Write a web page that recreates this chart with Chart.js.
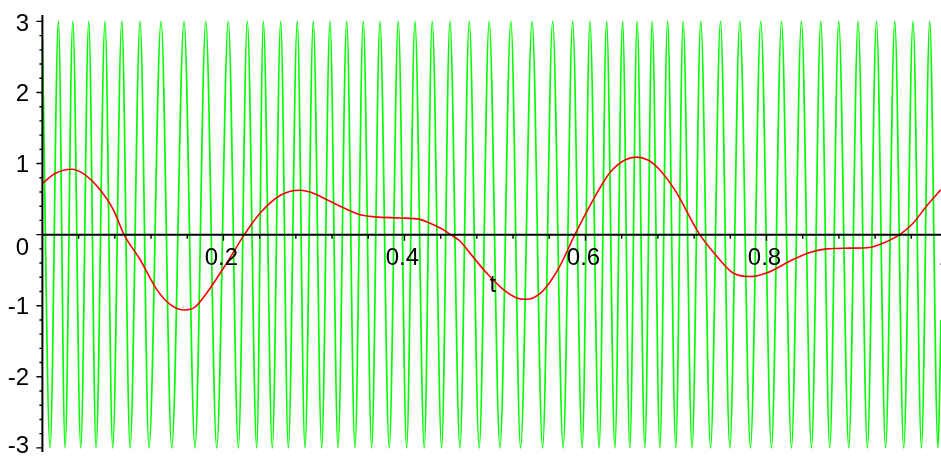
<!DOCTYPE html>
<html>
<head>
<meta charset="utf-8">
<script src="https://cdn.jsdelivr.net/npm/chart.js@4.4.1/dist/chart.umd.min.js"></script>
<style>
  html, body { margin: 0; padding: 0; background: #ffffff; }
  #wrap { width: 941px; height: 460px; }
</style>
</head>
<body>
<div id="wrap"><canvas id="plot" width="941" height="460"></canvas></div>
<script>
// Fast carrier: times of its crests and troughs, and its level
const carrierPeakT = [
  0.0177, 0.0336, 0.0512, 0.0692, 0.0877, 0.1079, 0.1311, 0.1565, 0.1805, 0.2054,
  0.2264, 0.2441, 0.2633, 0.2816, 0.2993, 0.3177, 0.3362, 0.3545, 0.3729, 0.3932,
  0.4116, 0.4307, 0.4502, 0.4716, 0.4936, 0.5176, 0.5411, 0.5637, 0.5858, 0.6049,
  0.6233, 0.6410, 0.6571, 0.6737, 0.6907, 0.7079, 0.7274, 0.7492, 0.7705, 0.7937,
  0.8166, 0.8386, 0.8600, 0.8798, 0.9012, 0.9215, 0.9417, 0.9619, 0.9803
];
const carrierTroughT = [
  0.0085, 0.0251, 0.0424, 0.0593, 0.0777, 0.0969, 0.1178, 0.1429, 0.1686, 0.1926,
  0.2165, 0.2368, 0.2540, 0.2717, 0.2901, 0.3086, 0.3266, 0.3453, 0.3638, 0.3832,
  0.4024, 0.4219, 0.4411, 0.4613, 0.4826, 0.5055, 0.5283, 0.5526, 0.5754, 0.5964,
  0.6151, 0.6325, 0.6490, 0.6656, 0.6822, 0.6998, 0.7178, 0.7382, 0.7595, 0.7823,
  0.8055, 0.8276, 0.8497, 0.8699, 0.8909, 0.9115, 0.9316, 0.9516, 0.9712, 0.9895
];
const carrierLevel = 3;
const carrierEndT = [0, 0.9928];
const carrierEndV = [2.75, -1.2];

// Slow signal
const signalT = [
  0.0000, 0.0140, 0.0325, 0.0472, 0.0637, 0.0784, 0.0902, 0.1079, 0.1263, 0.1410,
  0.1576, 0.1686, 0.1816, 0.2036, 0.2231, 0.2404, 0.2625, 0.2846, 0.2956, 0.3067,
  0.3288, 0.3509, 0.3674, 0.3950, 0.4171, 0.4282, 0.4428, 0.4510, 0.4613, 0.4724,
  0.4908, 0.5091, 0.5239, 0.5353, 0.5497, 0.5607, 0.5718, 0.5883, 0.6085, 0.6269,
  0.6435, 0.6564, 0.6689, 0.6822, 0.7006, 0.7189, 0.7263, 0.7448, 0.7631, 0.7816,
  0.8000, 0.8294, 0.8478, 0.8663, 0.8920, 0.9141, 0.9251, 0.9472, 0.9619, 0.9767,
  0.9925
];
const signalV = [
  0.72, 0.86, 0.92, 0.84, 0.63, 0.35, 0.00, -0.35, -0.77, -0.98,
  -1.06, -1.02, -0.82, -0.40, 0.00, 0.30, 0.55, 0.625, 0.60, 0.54,
  0.40, 0.28, 0.25, 0.235, 0.215, 0.16, 0.07, 0.00, -0.09, -0.26,
  -0.54, -0.77, -0.89, -0.91, -0.83, -0.67, -0.44, 0.00, 0.49, 0.87,
  1.05, 1.09, 1.05, 0.91, 0.59, 0.16, 0.00, -0.30, -0.54, -0.59,
  -0.54, -0.35, -0.25, -0.20, -0.19, -0.18, -0.14, 0.00, 0.16, 0.40,
  0.63
];

// Axis ticks and labels
const xTickValues = [0.2, 0.4, 0.6, 0.8, 1];
const xTickLabels = ['0.2', '0.4', '0.6', '0.8', '1'];
const xMinorStep = 0.04;
const yTickValues = [-3, -2, -1, 0, 1, 2, 3];
const yTickLabels = ['-3', '-2', '-1', '0', '1', '2', '3'];
const yMinorStep = 0.2;
const xAxisTitle = 't';

// Build point lists
const carrierPts = [];
carrierPeakT.forEach(t => carrierPts.push({ x: t, y: carrierLevel }));
carrierTroughT.forEach(t => carrierPts.push({ x: t, y: -carrierLevel }));
carrierEndT.forEach((t, i) => carrierPts.push({ x: t, y: carrierEndV[i] }));
carrierPts.sort((a, b) => a.x - b.x);

const signalPts = signalT.map((t, i) => ({ x: t, y: signalV[i] }));

const LABEL_FONT = '24px "Liberation Sans", Arial, sans-serif';

const axesPlugin = {
  id: 'crossAxes',
  afterDatasetsDraw(chart) {
    const { ctx, chartArea, scales } = chart;
    const xs = scales.x, ys = scales.y;
    const x0 = xs.getPixelForValue(0);
    const y0 = ys.getPixelForValue(0);
    ctx.save();
    ctx.strokeStyle = '#000000';
    ctx.fillStyle = '#000000';

    // axis lines
    ctx.lineWidth = 2;
    ctx.beginPath();
    ctx.moveTo(x0, chartArea.top);
    ctx.lineTo(x0, chartArea.bottom + 2);
    ctx.moveTo(x0, y0);
    ctx.lineTo(chartArea.right + 2, y0);
    ctx.stroke();

    // y ticks
    ctx.lineWidth = 1.4;
    ctx.beginPath();
    const yLo = yTickValues[0], yHi = yTickValues[yTickValues.length - 1];
    const nY = Math.round((yHi - yLo) / yMinorStep);
    for (let k = 0; k <= nY; k++) {
      const v = yLo + k * yMinorStep;
      const py = ys.getPixelForValue(v);
      const major = Math.abs(v - Math.round(v)) < 1e-6;
      ctx.moveTo(x0 - (major ? 6 : 3), py);
      ctx.lineTo(x0, py);
    }
    // x ticks
    const nX = Math.round(1 / xMinorStep);
    for (let k = 1; k <= nX; k++) {
      const v = k * xMinorStep;
      const px = xs.getPixelForValue(v);
      if (px > chartArea.right + 1) break;
      const major = xTickValues.some(t => Math.abs(t - v) < 1e-6);
      ctx.moveTo(px, y0);
      ctx.lineTo(px, y0 + (major ? 6 : 4));
    }
    ctx.stroke();

    // labels
    ctx.font = LABEL_FONT;
    ctx.textBaseline = 'alphabetic';
    ctx.textAlign = 'right';
    yTickValues.forEach((v, i) => {
      let cy = ys.getPixelForValue(v);
      if (v === 0) cy += 12;
      cy = Math.min(Math.max(cy, chartArea.top + 7.5), chartArea.bottom - 5.5);
      ctx.fillText(yTickLabels[i], 29, cy + 8.6);
    });
    ctx.textAlign = 'center';
    xTickValues.forEach((v, i) => {
      const px = xs.getPixelForValue(v) - 2;
      ctx.fillText(xTickLabels[i], px, y0 + 30.5);
    });
    ctx.fillText(xAxisTitle, xs.getPixelForValue(0.5) - 2, y0 + 57);
    ctx.restore();
  }
};

new Chart(document.getElementById('plot'), {
  type: 'scatter',
  data: {
    datasets: [
      {
        data: signalPts,
        showLine: true,
        borderColor: '#ff0000',
        borderWidth: 1.6,
        pointRadius: 0,
        cubicInterpolationMode: 'monotone',
        fill: false
      },
      {
        data: carrierPts,
        showLine: true,
        borderColor: '#00ff00',
        borderWidth: 1.7,
        pointRadius: 0,
        cubicInterpolationMode: 'monotone',
        fill: false
      }
    ]
  },
  options: {
    responsive: false,
    animation: false,
    devicePixelRatio: 1,
    layout: { padding: { left: 42.4, right: 0, top: 15, bottom: 10 } },
    plugins: { legend: { display: false }, tooltip: { enabled: false } },
    scales: {
      x: { type: 'linear', min: 0, max: 0.9928, display: false },
      y: { type: 'linear', min: -3.03, max: 3.09, display: false }
    }
  },
  plugins: [axesPlugin]
});
</script>
</body>
</html>
